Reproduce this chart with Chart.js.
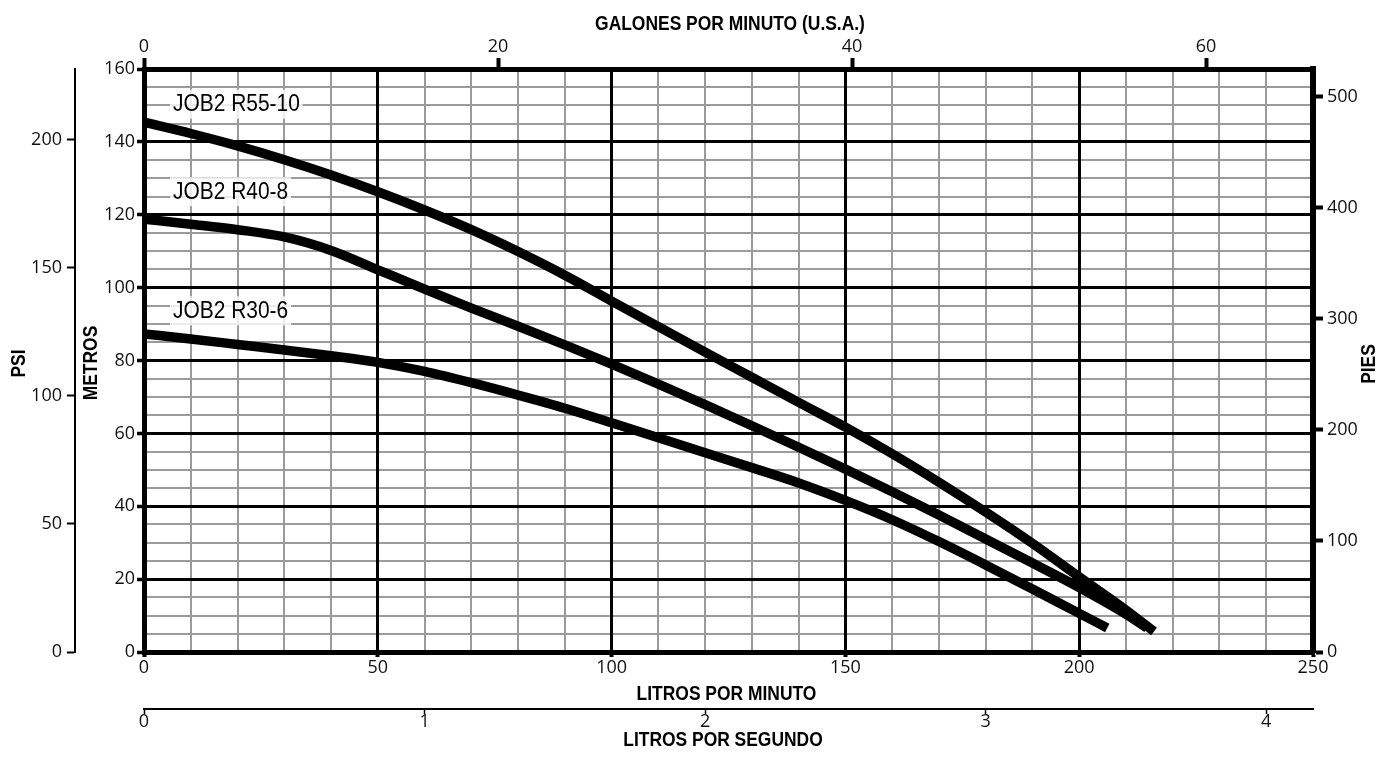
<!DOCTYPE html>
<html>
<head>
<meta charset="utf-8">
<script src="https://cdn.jsdelivr.net/npm/chart.js@4.4.1/dist/chart.umd.min.js"></script>
<style>
  html, body { margin: 0; padding: 0; background: #fff; }
</style>
</head>
<body>
<canvas id="myChart" width="1382" height="763"></canvas>
<script>
// pump curves: flow (litros por minuto) -> head (metros)
const flowR55 = [0, 10, 20, 30, 40, 50, 60, 70, 80, 90, 100, 110, 120, 130, 140, 150, 160, 170, 180, 190, 200, 210, 216]
const headR55 = [145.4, 142.3, 138.9, 135.1, 130.9, 126.3, 121.3, 115.9, 109.9, 103.4, 96.3, 89.3, 82.3, 75.4, 68.5, 61.7, 54.4, 46.6, 38.4, 29.8, 20.6, 11.5, 5.6]

const flowR40 = [0, 10, 20, 30, 40, 50, 60, 70, 80, 90, 100, 110, 120, 130, 140, 150, 160, 170, 180, 190, 200, 210, 214.5]
const headR40 = [118.8, 117.4, 115.9, 113.9, 110.2, 104.9, 99.6, 94.4, 89.4, 84.3, 79.0, 73.5, 67.9, 62.1, 56.2, 50.2, 44.0, 37.6, 31.0, 24.4, 17.7, 10.4, 6.6]

const flowR30 = [0, 10, 20, 30, 40, 50, 60, 70, 80, 90, 100, 110, 120, 130, 140, 150, 160, 170, 180, 190, 200, 206]
const headR30 = [87.3, 85.9, 84.4, 82.9, 81.3, 79.5, 77.0, 73.9, 70.5, 66.9, 62.9, 58.8, 54.7, 50.6, 46.4, 41.6, 36.3, 30.3, 23.9, 17.3, 10.6, 6.6]

const curveNames = ['JOB2 R55-10', 'JOB2 R40-8', 'JOB2 R30-6']
const nameFlow = [6.2, 6.2, 6.2]
const nameHead = [150.2, 126.2, 93.5]

// axis ranges and unit conversions
const lpmMax = 250
const metrosMax = 160
const gpmMax = lpmMax / 3.78541
const lpsMax = lpmMax / 60
const piesMax = metrosMax * 3.28084
const psiMax = metrosMax * 1.42233

const tickFont = { family: "'Open Sans', sans-serif", size: 18, lineHeight: 1 }
const tickColor = '#111'
const titleFont = "'Liberation Sans', Arial, sans-serif"

const fixSize = (size) => (scale) => {
  if (scale.isHorizontal()) scale.height = size
  else scale.width = size
}
const every = (n) => (ctx) => ctx.tick && Math.abs(ctx.tick.value % n) < 1e-6

const makeSeries = (flow, head) => flow.map((f, i) => ({ x: f, y: head[i] }))

const curve = (flow, head) => ({
  data: makeSeries(flow, head),
  borderColor: '#000',
  borderWidth: 9.5,
  pointRadius: 0,
  fill: false,
  cubicInterpolationMode: 'monotone'
})

const drawSqueezed = (ctx, text, x, y, rot, font, squeeze, align) => {
  ctx.save()
  ctx.translate(x, y)
  ctx.rotate(rot)
  ctx.scale(squeeze, 1)
  ctx.font = font
  ctx.textAlign = align || 'center'
  ctx.textBaseline = 'middle'
  ctx.fillStyle = '#000'
  ctx.fillText(text, 0, 0)
  ctx.restore()
}

const curveLabels = {
  id: 'curveLabels',
  afterDatasetsDraw(chart) {
    const { ctx, scales: { x, y } } = chart
    const font = "23px " + titleFont
    ctx.save()
    ctx.font = font
    curveNames.forEach((name, i) => {
      const px = x.getPixelForValue(nameFlow[i])
      const py = y.getPixelForValue(nameHead[i])
      const w = ctx.measureText(name).width * 0.91
      ctx.fillStyle = 'rgba(255,255,255,0.8)'
      ctx.fillRect(px - 3, py - 15, w + 6, 29)
      drawSqueezed(ctx, name, px, py, 0, font, 0.91, 'left')
    })
    ctx.restore()
  }
}

const axisTitles = {
  id: 'axisTitles',
  afterDraw(chart) {
    const { ctx, chartArea: a, scales } = chart
    const font = 'bold 21px ' + titleFont
    const cx = (a.left + a.right) / 2
    const cy = (a.top + a.bottom) / 2
    drawSqueezed(ctx, 'GALONES POR MINUTO (U.S.A.)', cx + 1.5, scales.gpm.top + 24.5, 0, font, 0.83)
    drawSqueezed(ctx, 'LITROS POR MINUTO', cx - 2, scales.x.top + 42, 0, font, 0.83)
    drawSqueezed(ctx, 'LITROS POR SEGUNDO', cx - 5.5, scales.lps.top + 31, 0, font, 0.83)
    drawSqueezed(ctx, 'PSI', 19.5, cy + 3, -Math.PI / 2, font, 0.83)
    drawSqueezed(ctx, 'METROS', scales.y.left + 16, cy + 2.5, -Math.PI / 2, font, 0.83)
    drawSqueezed(ctx, 'PIES', scales.pies.left + 56.5, cy + 3.5, -Math.PI / 2, font, 0.83)
  }
}

const ctx = document.getElementById('myChart')
new Chart(ctx, {
  type: 'line',
  data: {
    datasets: [
      curve(flowR55, headR55),
      curve(flowR40, headR40),
      curve(flowR30, headR30)
    ]
  },
  options: {
    responsive: false,
    animation: false,
    layout: { padding: 0 },
    plugins: {
      legend: { display: false },
      tooltip: { enabled: false }
    },
    scales: {
      x: {
        type: 'linear', position: 'bottom', weight: 0,
        min: 0, max: lpmMax,
        afterFit: fixSize(57),
        ticks: {
          stepSize: 10, autoSkip: false, maxRotation: 0, includeBounds: false,
          font: tickFont, color: tickColor, padding: 2,
          callback: (v) => v % 50 === 0 ? v : null
        },
        grid: {
          z: -1, color: '#000',
          lineWidth: (c) => every(50)(c) ? 3 : 0,
          tickLength: 5, tickColor: '#000',
          tickWidth: (c) => every(50)(c) ? 4 : 0
        },
        border: { width: 5, color: '#000' }
      },
      xMinor: {
        type: 'linear', axis: 'x', position: 'bottom', weight: -5,
        min: 0, max: lpmMax,
        afterFit: fixSize(0),
        ticks: { display: false, stepSize: 10, autoSkip: false, includeBounds: false },
        grid: { z: -2, color: '#9b9b9b', lineWidth: 2, drawTicks: false },
        border: { display: false }
      },
      lps: {
        type: 'linear', axis: 'x', position: 'bottom', weight: 1,
        min: 0, max: lpsMax,
        afterFit: fixSize(54),
        ticks: {
          stepSize: 1, autoSkip: false, maxRotation: 0, includeBounds: false,
          font: tickFont, color: tickColor, padding: -1
        },
        grid: { drawOnChartArea: false, tickLength: 5, tickColor: '#000', tickWidth: 1.5 },
        border: { width: 2, color: '#000' }
      },
      gpm: {
        type: 'linear', axis: 'x', position: 'top',
        min: 0, max: gpmMax,
        afterFit: fixSize(69),
        ticks: {
          stepSize: 5, autoSkip: false, maxRotation: 0, includeBounds: false,
          font: tickFont, color: tickColor, padding: 2,
          callback: (v) => v % 20 === 0 ? v : null
        },
        grid: {
          drawOnChartArea: false, tickLength: 11, tickColor: '#000',
          tickWidth: (c) => every(20)(c) ? 4 : 2
        },
        border: { width: 5, color: '#000' }
      },
      y: {
        type: 'linear', position: 'left', weight: 0,
        min: 0, max: metrosMax,
        afterFit: fixSize(69),
        ticks: {
          stepSize: 5, autoSkip: false, includeBounds: false,
          font: tickFont, color: tickColor, padding: 2,
          callback: (v) => v % 20 === 0 ? v : null
        },
        grid: {
          z: -1, color: '#000',
          lineWidth: (c) => every(20)(c) ? 3 : 0,
          tickLength: 7, tickColor: '#000',
          tickWidth: (c) => every(20)(c) ? 3.5 : 0
        },
        border: { width: 5, color: '#000' }
      },
      yMinor: {
        type: 'linear', axis: 'y', position: 'left', weight: -5,
        min: 0, max: metrosMax,
        afterFit: fixSize(0),
        ticks: { display: false, stepSize: 5, autoSkip: false, includeBounds: false },
        grid: { z: -2, color: '#9b9b9b', lineWidth: 2, drawTicks: false },
        border: { display: false }
      },
      psi: {
        type: 'linear', axis: 'y', position: 'left', weight: 1,
        min: 0, max: psiMax,
        afterFit: fixSize(75),
        ticks: {
          stepSize: 50, autoSkip: false, includeBounds: false,
          font: tickFont, color: tickColor, padding: 5
        },
        grid: { drawOnChartArea: false, tickLength: 8, tickColor: '#000', tickWidth: 2 },
        border: { width: 2, color: '#000' }
      },
      pies: {
        type: 'linear', axis: 'y', position: 'right',
        min: 0, max: piesMax,
        afterFit: fixSize(69),
        ticks: {
          stepSize: 20, autoSkip: false, includeBounds: false,
          font: tickFont, color: tickColor, padding: 4,
          callback: (v) => v % 100 === 0 ? v : null
        },
        grid: {
          drawOnChartArea: false, tickLength: 10, tickColor: '#000',
          tickWidth: (c) => every(100)(c) ? 4 : 2
        },
        border: { width: 6, color: '#000' }
      }
    }
  },
  plugins: [curveLabels, axisTitles]
})
</script>
</body>
</html>
